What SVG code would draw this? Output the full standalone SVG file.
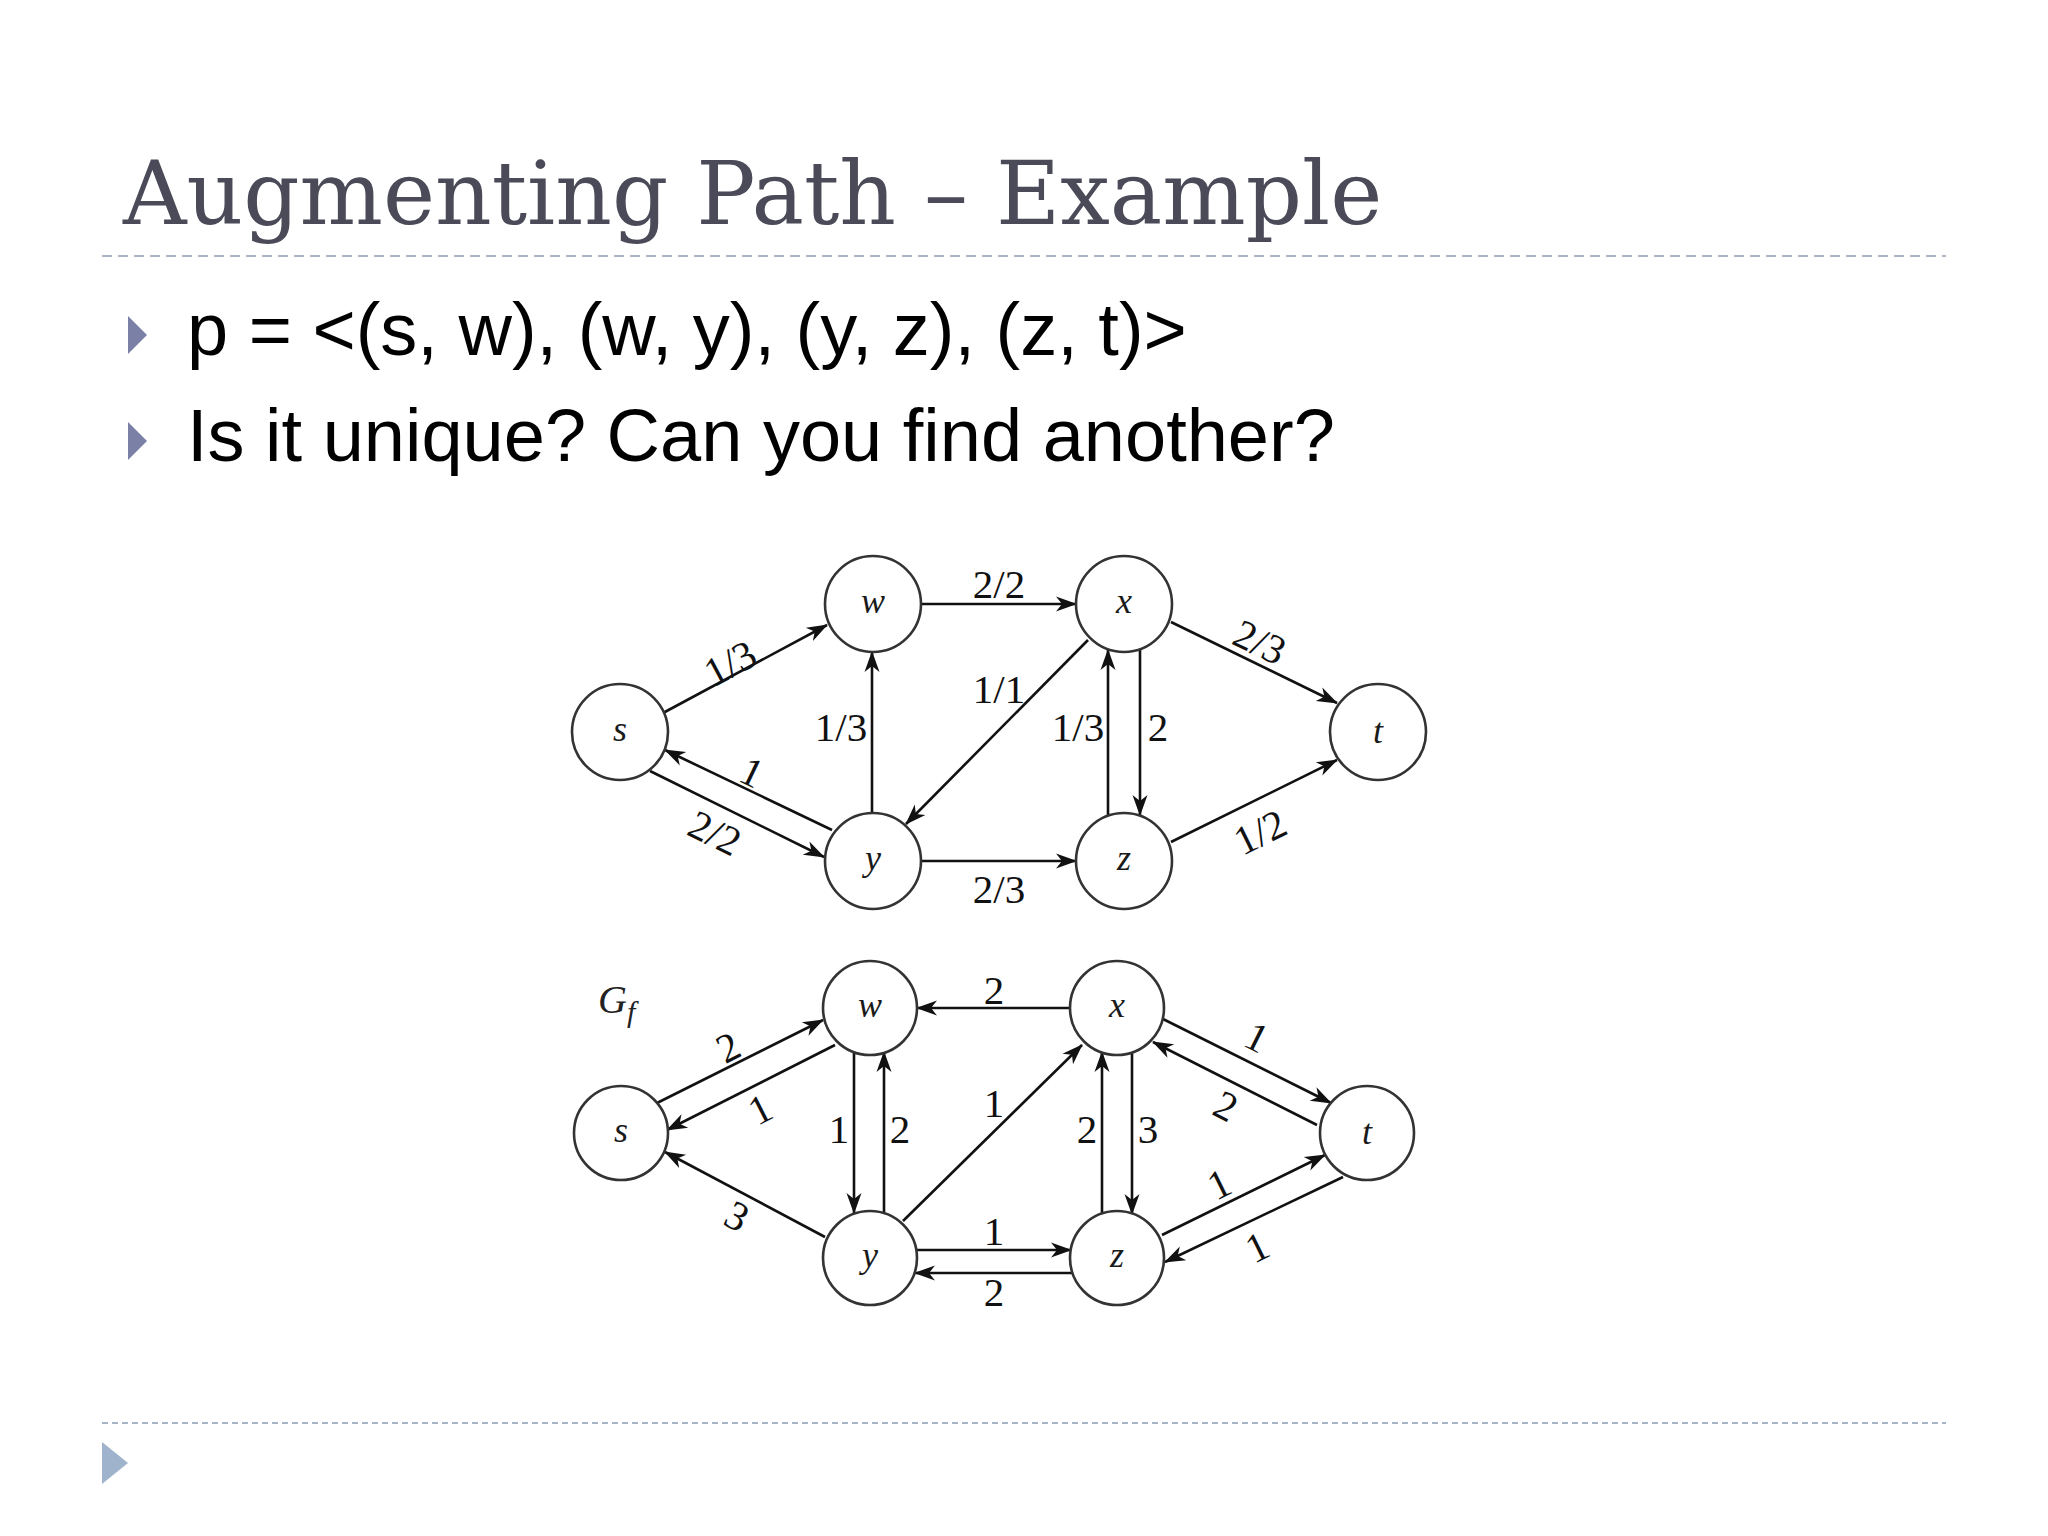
<svg xmlns="http://www.w3.org/2000/svg" width="2048" height="1536" viewBox="0 0 2048 1536">
<defs>
<style>
.title{font-family:"DejaVu Serif","Liberation Serif",serif;font-size:88px;fill:#4a4a58}
.bul{font-family:"Liberation Sans",Arial,sans-serif;font-size:74px;fill:#000}
.node circle{fill:#fff;stroke:#333;stroke-width:2.6}
.node text{font-family:"Liberation Serif","Times New Roman",serif;font-style:italic;font-size:36px;fill:#1a1a1a;text-anchor:middle}
.edges line{stroke:#111;stroke-width:2.6;marker-end:url(#ah)}
.lbl{font-family:"Liberation Serif","Times New Roman",serif;font-size:41px;fill:#111;text-anchor:middle}
.gf{font-family:"Liberation Serif","Times New Roman",serif;font-style:italic;fill:#222}
</style>
<marker id="ah" markerUnits="userSpaceOnUse" viewBox="-22 -10 24 20" markerWidth="24" markerHeight="20" refX="0" refY="0" orient="auto">
<path d="M1,0 L-20,-7.5 L-14,0 L-20,7.5 Z" fill="#111"/>
</marker>
</defs>
<rect width="2048" height="1536" fill="#fff"/>

<g id="header">
<text class="title" x="123" y="224">Augmenting Path – Example</text>
<line x1="102" y1="256" x2="1946" y2="256" stroke="#a9b5c7" stroke-width="2" stroke-dasharray="10 6"/>
<polygon points="128,316 147,335 128,354" fill="#7b80a6"/>
<text class="bul" x="187" y="355">p = &lt;(s, w), (w, y), (y, z), (z, t)&gt;</text>
<polygon points="128,422 147,441 128,460" fill="#7b80a6"/>
<text class="bul" x="187" y="461">Is it unique? Can you find another?</text>
</g>

<g id="footer">
<line x1="102" y1="1423" x2="1946" y2="1423" stroke="#a9b5c7" stroke-width="2" stroke-dasharray="6 4"/>
<polygon points="102,1442 128,1463 102,1484" fill="#9fb4cc"/>
</g>

<!-- top graph -->
<g id="top-edges" class="edges">
<line x1="663" y1="713" x2="827" y2="625"/>
<line x1="832" y1="830" x2="665" y2="750"/>
<line x1="650" y1="771" x2="824" y2="857"/>
<line x1="872" y1="813" x2="872" y2="652"/>
<line x1="921" y1="604" x2="1076" y2="604"/>
<line x1="1088" y1="640" x2="906" y2="824"/>
<line x1="1108" y1="815" x2="1108" y2="650"/>
<line x1="1140" y1="650" x2="1140" y2="815"/>
<line x1="1171" y1="622" x2="1337" y2="703"/>
<line x1="1171" y1="842" x2="1337" y2="760"/>
<line x1="921" y1="861" x2="1076" y2="861"/>
</g>
<g id="top-labels">
<text class="lbl" transform="translate(730,663) rotate(-28)" y="14">1/3</text>
<text class="lbl" transform="translate(752,772) rotate(25.6)" y="14">1</text>
<text class="lbl" transform="translate(715,833) rotate(26)" y="14">2/2</text>
<text class="lbl" x="841" y="741">1/3</text>
<text class="lbl" x="999" y="598">2/2</text>
<text class="lbl" x="999" y="703">1/1</text>
<text class="lbl" x="1078" y="741">1/3</text>
<text class="lbl" x="1158" y="741">2</text>
<text class="lbl" transform="translate(1260,642) rotate(25.6)" y="14">2/3</text>
<text class="lbl" transform="translate(1260,832) rotate(-26)" y="14">1/2</text>
<text class="lbl" x="999" y="903">2/3</text>
</g>
<g id="top-s" class="node"><circle cx="620" cy="732" r="48"/><text x="620" y="741">s</text></g>
<g id="top-w" class="node"><circle cx="873" cy="604" r="48"/><text x="873" y="613">w</text></g>
<g id="top-x" class="node"><circle cx="1124" cy="604" r="48"/><text x="1124" y="613">x</text></g>
<g id="top-y" class="node"><circle cx="873" cy="861" r="48"/><text x="873" y="870">y</text></g>
<g id="top-z" class="node"><circle cx="1124" cy="861" r="48"/><text x="1124" y="870">z</text></g>
<g id="top-t" class="node"><circle cx="1378" cy="732" r="48"/><text x="1378" y="743">t</text></g>

<!-- residual graph -->
<g id="gf-label"><text class="gf" x="598" y="1013" font-size="40">G</text><text class="gf" x="627" y="1022" font-size="30">f</text></g>
<g id="bot-edges" class="edges">
<line x1="657" y1="1103" x2="823" y2="1020"/>
<line x1="835" y1="1045" x2="667" y2="1130"/>
<line x1="825" y1="1237" x2="665" y2="1152"/>
<line x1="854" y1="1052" x2="854" y2="1213"/>
<line x1="884" y1="1214" x2="884" y2="1052"/>
<line x1="903" y1="1221" x2="1082" y2="1045"/>
<line x1="1070" y1="1008" x2="917" y2="1008"/>
<line x1="916" y1="1250" x2="1071" y2="1250"/>
<line x1="1073" y1="1273" x2="915" y2="1273"/>
<line x1="1132" y1="1052" x2="1132" y2="1214"/>
<line x1="1102" y1="1214" x2="1102" y2="1052"/>
<line x1="1163" y1="1019" x2="1331" y2="1103"/>
<line x1="1317" y1="1125" x2="1153" y2="1042"/>
<line x1="1162" y1="1235" x2="1325" y2="1155"/>
<line x1="1343" y1="1177" x2="1165" y2="1262"/>
</g>
<g id="bot-labels">
<text class="lbl" transform="translate(728,1047) rotate(-27)" y="14">2</text>
<text class="lbl" transform="translate(760,1109) rotate(-27)" y="14">1</text>
<text class="lbl" transform="translate(737,1216) rotate(28)" y="14">3</text>
<text class="lbl" x="839" y="1143">1</text>
<text class="lbl" x="900" y="1143">2</text>
<text class="lbl" x="994" y="1117">1</text>
<text class="lbl" x="994" y="1004">2</text>
<text class="lbl" x="994" y="1245">1</text>
<text class="lbl" x="994" y="1306">2</text>
<text class="lbl" x="1087" y="1143">2</text>
<text class="lbl" x="1148" y="1143">3</text>
<text class="lbl" transform="translate(1257,1037) rotate(26.6)" y="14">1</text>
<text class="lbl" transform="translate(1226,1106) rotate(27)" y="14">2</text>
<text class="lbl" transform="translate(1219,1184) rotate(-26)" y="14">1</text>
<text class="lbl" transform="translate(1257,1247) rotate(-26)" y="14">1</text>
</g>
<g id="bot-s" class="node"><circle cx="621" cy="1133" r="47"/><text x="621" y="1142">s</text></g>
<g id="bot-w" class="node"><circle cx="870" cy="1008" r="47"/><text x="870" y="1017">w</text></g>
<g id="bot-x" class="node"><circle cx="1117" cy="1008" r="47"/><text x="1117" y="1017">x</text></g>
<g id="bot-y" class="node"><circle cx="870" cy="1258" r="47"/><text x="870" y="1267">y</text></g>
<g id="bot-z" class="node"><circle cx="1117" cy="1258" r="47"/><text x="1117" y="1267">z</text></g>
<g id="bot-t" class="node"><circle cx="1367" cy="1133" r="47"/><text x="1367" y="1144">t</text></g>
</svg>
